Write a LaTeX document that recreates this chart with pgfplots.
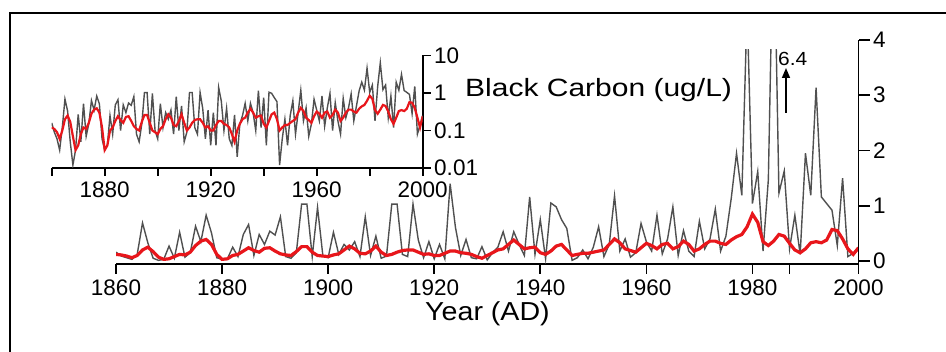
\documentclass[border=0pt]{standalone}
\usepackage{pgfplots}
\pgfplotsset{compat=1.18}
\usepackage{pgfplotstable}
\usepackage{fontspec}
\setmainfont{Liberation Sans}
\usetikzlibrary{arrows.meta}

\definecolor{bcgrey}{HTML}{505050}
\definecolor{bcred}{HTML}{E8161B}

\newcommand\ticksize{\fontsize{22.5}{22.5}\selectfont}

% Annual black carbon (ug/L) and its smoothed curve
\pgfplotstableread{
year bc smooth
1860 0.16 0.12
1861 0.09 0.11
1862 0.06 0.09
1863 0.03 0.06
1864 0.12 0.10
1865 0.69 0.20
1866 0.33 0.25
1867 0.05 0.17
1868 0.012 0.07
1869 0.03 0.03
1870 0.27 0.04
1871 0.05 0.08
1872 0.52 0.12
1873 0.07 0.11
1874 0.15 0.16
1875 0.63 0.28
1876 0.35 0.36
1877 0.83 0.39
1878 0.51 0.30
1879 0.06 0.12
1880 0.03 0.03
1881 0.04 0.04
1882 0.25 0.10
1883 0.08 0.12
1884 0.48 0.18
1885 0.66 0.24
1886 0.10 0.19
1887 0.48 0.16
1888 0.30 0.23
1889 0.54 0.24
1890 0.47 0.18
1891 0.80 0.13
1892 0.08 0.11
1893 0.05 0.10
1894 0.15 0.17
1895 1.03 0.26
1896 1.03 0.26
1897 0.08 0.16
1898 0.97 0.10
1899 0.10 0.09
1900 0.06 0.08
1901 0.52 0.11
1902 0.12 0.13
1903 0.30 0.20
1904 0.20 0.27
1905 0.35 0.22
1906 0.08 0.14
1907 0.80 0.13
1908 0.10 0.18
1909 0.45 0.27
1910 0.05 0.16
1911 0.09 0.10
1912 1.03 0.12
1913 1.03 0.16
1914 0.12 0.19
1915 0.08 0.20
1916 1.03 0.20
1917 0.38 0.16
1918 0.06 0.12
1919 0.35 0.13
1920 0.04 0.10
1921 0.30 0.10
1922 0.04 0.14
1923 1.40 0.18
1924 0.61 0.18
1925 0.10 0.15
1926 0.39 0.14
1927 0.06 0.12
1928 0.04 0.08
1929 0.26 0.05
1930 0.02 0.10
1931 0.15 0.15
1932 0.25 0.20
1933 0.53 0.22
1934 0.18 0.30
1935 0.53 0.38
1936 0.30 0.30
1937 0.10 0.22
1938 1.16 0.24
1939 0.12 0.25
1940 0.75 0.15
1941 0.04 0.12
1942 1.05 0.18
1943 0.98 0.27
1944 0.75 0.30
1945 0.59 0.20
1946 0.012 0.10
1947 0.06 0.12
1948 0.20 0.14
1949 0.04 0.14
1950 0.25 0.16
1951 0.62 0.18
1952 0.08 0.20
1953 0.30 0.30
1954 1.18 0.40
1955 0.18 0.33
1956 0.40 0.22
1957 0.07 0.19
1958 0.15 0.16
1959 0.68 0.24
1960 0.35 0.32
1961 0.18 0.28
1962 0.83 0.22
1963 0.13 0.30
1964 0.40 0.32
1965 0.98 0.22
1966 0.10 0.26
1967 0.55 0.36
1968 0.18 0.30
1969 0.08 0.18
1970 0.72 0.22
1971 0.22 0.30
1972 0.40 0.36
1973 0.94 0.36
1974 0.18 0.32
1975 0.45 0.30
1976 1.13 0.38
1977 1.95 0.44
1978 1.19 0.48
1979 4.60 0.62
1980 1.04 0.85
1981 1.62 0.70
1982 0.18 0.35
1983 1.47 0.28
1984 6.40 0.36
1985 1.23 0.48
1986 1.63 0.45
1987 0.22 0.32
1988 0.83 0.20
1989 0.12 0.15
1990 1.95 0.22
1991 1.19 0.33
1992 3.14 0.35
1993 1.16 0.33
1994 1.04 0.38
1995 0.92 0.57
1996 0.28 0.55
1997 1.50 0.40
1998 0.08 0.22
1999 0.14 0.12
2000 0.25 0.24
}\bcdata

\pgfplotsset{
  bcaxis/.style={
    scale only axis,
    xmin=1860, xmax=2000,
    tick align=outside,
    axis line style={line width=1.6pt,-},
    every tick/.style={black,line width=1.6pt},
    ticklabel style={font=\ticksize},
    xticklabel style={yshift=-2pt},
    /pgf/number format/1000 sep={},
    /pgf/number format/assume math mode=true,
  }
}

\begin{document}
\begin{tikzpicture}[x=1pt,y=1pt]
\useasboundingbox (0,0) rectangle (946,352);
\fill[white] (0,0) rectangle (946,352);
% outer frame
\draw[line width=2pt] (10,-3) -- (10,339) -- (950,339);

% main panel: linear scale, data clipped just under 4
\begin{axis}[bcaxis,
  at={(116pt,88pt)}, anchor=south west,
  width=742.5pt, height=214pt,
  ymin=-0.054, ymax=3.82,
  axis x line*=bottom, axis y line=none,
  xtick={1860,1880,...,2000},
  extra x ticks={1987}, extra x tick labels={},
  major tick length=10pt,
  clip=true]
\addplot[bcgrey, line width=1.4pt] table[x=year,y=bc]{\bcdata};
\addplot[bcred, line width=3.2pt] table[x=year,y=smooth]{\bcdata};
\end{axis}

% main panel: right-hand value axis 0--4
\begin{axis}[bcaxis,
  at={(116pt,88pt)}, anchor=south west,
  width=742.5pt, height=224pt,
  ymin=-0.054, ymax=4,
  axis x line=none, axis y line*=right,
  ytick={0,1,2,3,4},
  major tick length=11pt]
\end{axis}

% inset: same record on a log scale
\begin{axis}[bcaxis,
  at={(51.7pt,184pt)}, anchor=south west,
  width=371pt, height=112.5pt,
  ymode=log, ymin=0.01, ymax=10,
  axis x line*=bottom, axis y line*=right,
  xtick={1860,1880,...,2000},
  xticklabels={,1880,,1920,,1960,,2000},
  ytick={0.01,0.1,1,10},
  yticklabels={0.01,0.1,1,10},
  yminorticks=false,
  major tick length=8pt,
  clip=true]
\addplot[bcgrey, line width=1.4pt] table[x=year,y=bc]{\bcdata};
\addplot[bcred, line width=2.2pt] table[x=year,y=smooth]{\bcdata};
\end{axis}

\node[anchor=base west, inner sep=0pt, font=\fontsize{25}{25}\selectfont]
  at (465,255.3) {\scalebox{1.2}[1]{Black Carbon (ug/L)}};
\node[anchor=base, inner sep=0pt, font=\fontsize{26}{26}\selectfont]
  at (487.5,31.3) {\scalebox{1.1}[1]{Year (AD)}};
\node[anchor=base west, inner sep=0pt, font=\fontsize{19}{19}\selectfont]
  at (778,286) {\scalebox{1.1}[1]{6.4}};
\draw[line width=1.5pt, -{Triangle[length=10pt,width=8pt]}] (786,239) -- (786,284);
\end{tikzpicture}
\end{document}
